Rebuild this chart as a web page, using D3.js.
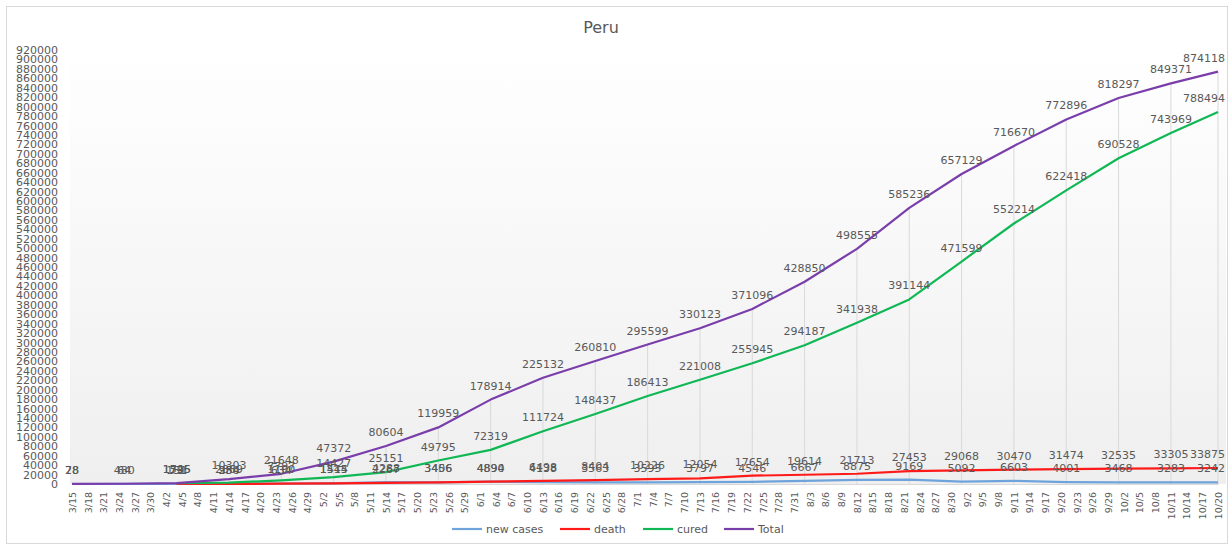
<!DOCTYPE html>
<html>
<head>
<meta charset="utf-8">
<script src="https://cdn.jsdelivr.net/npm/d3@7"></script>
<style>
  body { margin: 0; background: #fff; }
  text { font-family: "DejaVu Sans", Verdana, sans-serif; fill: #595959; }
</style>
</head>
<body>
<div id="chart"></div>
<script>
// data points, one every ~10 days
const dates = ["2020-03-15","2020-03-25","2020-04-04","2020-04-14","2020-04-24","2020-05-04",
  "2020-05-14","2020-05-24","2020-06-03","2020-06-13","2020-06-23","2020-07-03","2020-07-13",
  "2020-07-23","2020-08-02","2020-08-12","2020-08-22","2020-09-01","2020-09-11","2020-09-21",
  "2020-10-01","2020-10-11","2020-10-20"];
const newCases = [28, 64, 151, 980, 1100, 1515, 4288, 3406, 4890, 4138, 3563, 3595, 3797,
  4546, 6667, 8875, 9169, 5092, 6603, 4001, 3468, 3283, 3242];
const death = [null, null, 73, 254, 634, 1444, 2267, 3456, 4894, 6498, 8404, 10226, 12054,
  17654, 19614, 21713, 27453, 29068, 30470, 31474, 32535, 33305, 33875];
const cured = [null, null, 1595, 2869, 7797, 14427, 25151, 49795, 72319, 111724, 148437, 186413, 221008,
  255945, 294187, 341938, 391144, 471599, 552214, 622418, 690528, 743969, 788494];
const total = [78, 480, 1746, 10303, 21648, 47372, 80604, 119959, 178914, 225132, 260810, 295599, 330123,
  371096, 428850, 498555, 585236, 657129, 716670, 772896, 818297, 849371, 874118];
const seriesNames = ["new cases", "death", "cured", "Total"];
const seriesColors = ["#6fa3dc", "#ff1a1a", "#10b755", "#7a3eab"];
const yMax = 920000, yStep = 20000;
const xTickStepDays = 3;

const width = 1232, height = 545;
const parse = d3.timeParse("%Y-%m-%d");
const xDates = dates.map(parse);
const series = [newCases, death, cured, total];

const svg = d3.select("#chart").append("svg")
  .attr("width", width).attr("height", height);

// chart border
svg.append("rect").attr("x", 6.5).attr("y", 6.5).attr("width", 1221).attr("height", 537)
  .attr("fill", "#fff").attr("stroke", "#d9d9d9");

const defs = svg.append("defs");
const grad = defs.append("linearGradient").attr("id", "bg").attr("x1", 0).attr("x2", 0).attr("y1", 0).attr("y2", 1);
grad.append("stop").attr("offset", "0%").attr("stop-color", "#ffffff");
grad.append("stop").attr("offset", "100%").attr("stop-color", "#efefef");

const x = d3.scaleTime().domain([xDates[0], xDates[xDates.length - 1]]).range([72, 1218]);
const y = d3.scaleLinear().domain([0, yMax]).range([484, 50]);

svg.append("rect").attr("x", 70).attr("y", 45).attr("width", 1156).attr("height", 439)
  .attr("fill", "url(#bg)");

svg.append("text").attr("x", 601).attr("y", 33).attr("text-anchor", "middle")
  .style("font-size", "16px").text("Peru");

// y axis
const yAxis = d3.axisLeft(y).tickValues(d3.range(0, yMax + 1, yStep)).tickFormat(d3.format("d")).tickSize(0);
const gy = svg.append("g").attr("transform", "translate(58,0)").call(yAxis);
gy.select(".domain").remove();
gy.selectAll("text").style("font-size", "11px").attr("dx", 0).attr("x", 0);

// x axis
const xTicks = d3.timeDay.range(xDates[0], d3.timeDay.offset(xDates[xDates.length - 1], 1), xTickStepDays);
const xAxis = d3.axisBottom(x).tickValues(xTicks).tickFormat(d3.timeFormat("%-m/%-d")).tickSize(0);
const gx = svg.append("g").attr("transform", "translate(0,484)").call(xAxis);
gx.select(".domain").attr("stroke", "#d9d9d9");
gx.selectAll("text").style("font-size", "9.5px")
  .attr("transform", "rotate(-90)").attr("text-anchor", "end")
  .attr("x", -8).attr("y", 0).attr("dy", "0.35em");

// drop lines
svg.append("g").selectAll("line").data(xDates).enter().append("line")
  .attr("x1", d => x(d)).attr("x2", d => x(d))
  .attr("y1", (d, i) => y(total[i])).attr("y2", y(0))
  .attr("stroke", "#d9d9d9").attr("stroke-width", 1);

const line = d3.line().defined(d => d.v != null).x(d => x(d.date)).y(d => y(d.v));

series.forEach((vals, k) => {
  const pts = vals.map((v, i) => ({date: xDates[i], v: v}));
  svg.append("path").datum(pts).attr("d", line)
    .attr("fill", "none").attr("stroke", seriesColors[k]).attr("stroke-width", 2.2)
    .attr("stroke-linejoin", "round");
});

// data labels, kept inside the chart on the right
series.forEach((vals, k) => {
  const pts = vals.map((v, i) => ({date: xDates[i], v: v})).filter(d => d.v != null);
  svg.append("g").selectAll("text").data(pts).enter().append("text")
    .attr("x", d => x(d.date)).attr("y", d => y(d.v) - 10)
    .attr("text-anchor", "middle").style("font-size", "11px")
    .text(d => d.v)
    .each(function () {
      const w = this.getComputedTextLength();
      const cx = +this.getAttribute("x");
      if (cx + w / 2 > 1225) this.setAttribute("x", 1225 - w / 2);
    });
});

// legend
const legendX = [452, 560, 643, 724];
const lg = svg.append("g");
seriesNames.forEach((name, k) => {
  lg.append("line").attr("x1", legendX[k]).attr("x2", legendX[k] + 30)
    .attr("y1", 529).attr("y2", 529).attr("stroke", seriesColors[k]).attr("stroke-width", 2.2);
  lg.append("text").attr("x", legendX[k] + 34).attr("y", 533).style("font-size", "11px").text(name);
});
</script>
</body>
</html>
